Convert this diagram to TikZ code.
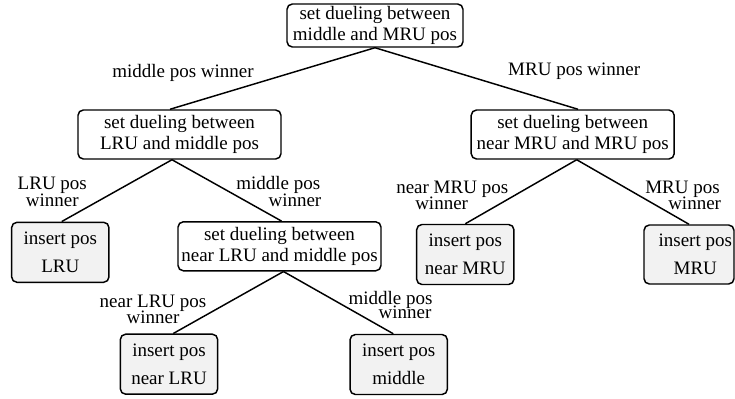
\documentclass[tikz,border=0pt]{standalone}
\usepackage{fontspec}
\setmainfont{Liberation Serif}
\usetikzlibrary{calc}
\begin{document}
\begin{tikzpicture}[x=0.75pt,y=-0.75pt,
  every node/.style={inner sep=0pt, font=\fontsize{14.25pt}{15.75pt}\selectfont},
  duel/.style={draw, line width=1.1pt, rounded corners=4pt, align=center, minimum width=152.25pt, minimum height=36.75pt},
  leaf/.style={duel, fill=gray!10, minimum width=73pt, minimum height=45pt},
  lab/.style={align=left, font=\fontsize{14.25pt}{13pt}\selectfont},
  conn/.style={line width=1.1pt}]
\useasboundingbox (0,0) rectangle (735,399);
% decision boxes
\node[duel, minimum width=132pt, minimum height=32.25pt] (top) at (375,25.5) {set dueling between\\middle and MRU pos};
\node[duel] (lm) at (179.5,134.5) {set dueling between\\LRU and middle pos};
\node[duel] (nm) at (572.7,134.5) {set dueling between\\near MRU and MRU pos};
\node[duel] (nl) at (279.5,246.3) {set dueling between\\near LRU and middle pos};
% leaves
\node[leaf] (pLRU) at (60.3,252.3) {insert pos\\[5pt]LRU};
\node[leaf] (pnMRU) at (465.3,254.5) {insert pos\\[5pt]near MRU};
\node[leaf, minimum width=67.5pt, minimum height=44.25pt] (pMRU) at (689,254.5) {\hspace*{9.4pt}insert pos\\[5pt]\hspace*{9.4pt}MRU};
\node[leaf] (pnLRU) at (169,364.2) {insert pos\\[5pt]near LRU};
\node[leaf] (pmid) at (398.7,364.5) {insert pos\\[5pt]middle};
% connectors
\draw[conn] (top.south) -- ($(lm.north)+(-9.5,0)$);
\draw[conn] (top.south) -- ($(nm.north)+(5.3,0)$);
\draw[conn] ($(lm.south)+(-7.5,0)$) -- ($(pLRU.north)+(1.4,0)$);
\draw[conn] ($(lm.south)+(-7.5,0)$) -- ($(nl.north)+(2,0)$);
\draw[conn] ($(nm.south)+(4,0)$) -- (pnMRU.north);
\draw[conn] ($(nm.south)+(4,0)$) -- (pMRU.north);
\draw[conn] ($(nl.south)+(4,0)$) -- ($(pnLRU.north)+(4.3,0)$);
\draw[conn] ($(nl.south)+(4,0)$) -- ($(pmid.north)+(-5.4,0)$);
% labels (base anchor = baseline of last line)
\node[anchor=base] (l1) at (183,77.3) {middle pos winner};
\node[anchor=base] (l2) at (574.2,76) {MRU pos winner};
\node[lab, align=center, anchor=base] (l3) at (52.3,206.7) {LRU pos\\winner};
\node[lab, anchor=base west] (l4) at (236,206.7) {middle pos\\\hspace*{24.2pt}winner};
\node[lab, align=center, anchor=base] (l5) at (153,323.3) {near LRU pos\\[-1.3pt]winner};
\node[lab, anchor=base west] (l6) at (348.3,318.3) {middle pos\\[-2.5pt]\hspace*{22.5pt}winner};
\node[lab, anchor=base west] (l7) at (396,209.3) {near MRU pos\\[-1pt]\hspace*{14.25pt}winner};
\node[lab, anchor=base west] (l8) at (645,209.3) {MRU pos\\[-1pt]\hspace*{17.25pt}winner};
\end{tikzpicture}
\end{document}
